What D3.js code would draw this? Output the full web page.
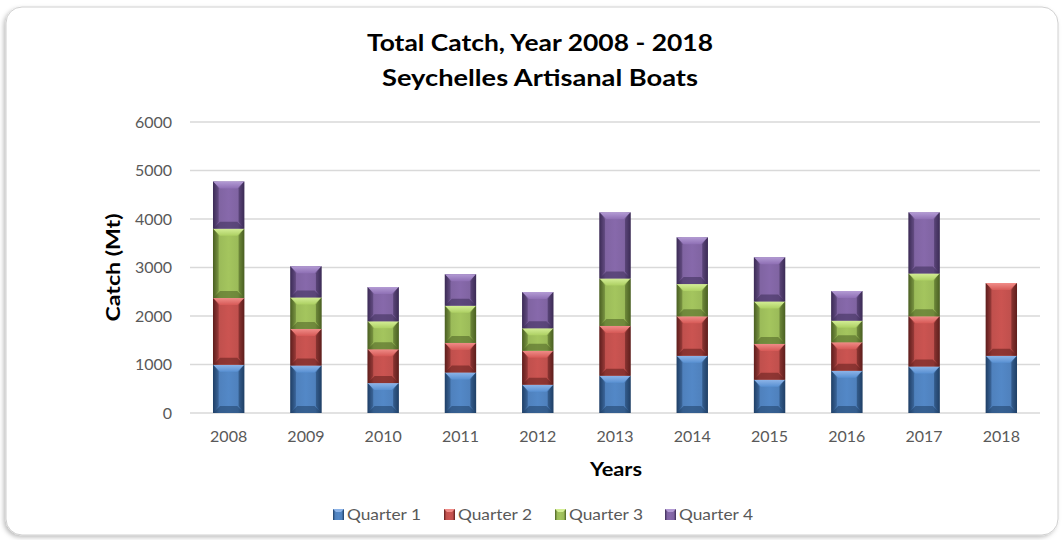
<!DOCTYPE html>
<html><head><meta charset="utf-8">
<script src="https://cdn.jsdelivr.net/npm/d3@7"></script>
<style>
html,body{margin:0;padding:0;background:#fff;}
svg{display:block;font-family:Lato,"Open Sans",sans-serif;}
</style></head>
<body>
<svg id="c" width="1063" height="540"></svg>
<script>
const years = ["2008","2009","2010","2011","2012","2013","2014","2015","2016","2017","2018"];
const seriesNames = ["Quarter 1","Quarter 2","Quarter 3","Quarter 4"];
const q1 = [993, 979, 616, 836, 582, 767, 1178, 685, 870, 959, 1178];
const q2 = [1377, 754, 699, 609, 699, 1028, 815, 740, 589, 1034, 1500];
const q3 = [1431, 651, 575, 767, 466, 979, 665, 876, 445, 884, 0];
const q4 = [973, 643, 706, 651, 746, 1363, 965, 911, 610, 1260, 0];
const yTicks = [0,1000,2000,3000,4000,5000,6000];
const colors = ["#4F81BD","#C0504D","#9BBB59","#8064A2"];
const lights = ["#8DB4E8","#F08C88","#D4EE96","#B39BD4"];
const darks = ["#1F3F66","#5E1E1C","#4A5F22","#3B2B55"];

const svg = d3.select("#c");
const defs = svg.append("defs");

// frame with shadow
const sh = defs.append("filter").attr("id","sh").attr("x","-5%").attr("y","-5%").attr("width","110%").attr("height","110%");
sh.append("feDropShadow").attr("dx",-2).attr("dy",2).attr("stdDeviation",2).attr("flood-color","#000").attr("flood-opacity",0.25);
svg.append("rect").attr("x",6).attr("y",7).attr("width",1052).attr("height",528).attr("rx",16)
  .attr("fill","#fff").attr("stroke","#d0d0d0").attr("stroke-width",1).attr("filter","url(#sh)");

const margin = {left:190, right:23, top:122, bottom:127};
const W = 1063, H = 540;
const x = d3.scaleBand().domain(years).range([margin.left, W - margin.right]).paddingInner(0.595).paddingOuter(0.2975);
const y = d3.scaleLinear().domain([0,6000]).range([H - margin.bottom, margin.top]);

// gridlines
svg.append("g").selectAll("line").data(yTicks).join("line")
  .attr("x1",margin.left).attr("x2",W - margin.right)
  .attr("y1",d=>y(d)).attr("y2",d=>y(d))
  .attr("stroke","#d9d9d9").attr("stroke-width",1.3);

// y axis labels
const yAxis = d3.axisLeft(y).tickValues(yTicks).tickSize(0).tickPadding(18).tickFormat(d3.format("d"));
const ya = svg.append("g").attr("transform",`translate(${margin.left},0)`).call(yAxis);
ya.select(".domain").remove();
ya.selectAll("text").attr("font-size",16).attr("fill","#595959").attr("font-family","Lato,sans-serif");

// x axis labels
const xAxis = d3.axisBottom(x).tickSize(0).tickPadding(18);
const xa = svg.append("g").attr("transform",`translate(0,${y(0)})`).call(xAxis);
xa.select(".domain").remove();
xa.selectAll("text").attr("font-size",16).attr("fill","#595959").attr("font-family","Lato,sans-serif");

// gradients
colors.forEach((c,i)=>{
  const g = defs.append("linearGradient").attr("id","hg"+i).attr("x1","0").attr("x2","1").attr("y1","0").attr("y2","0");
  g.append("stop").attr("offset","0").attr("stop-color",darks[i]);
  g.append("stop").attr("offset","0.2").attr("stop-color",c);
  g.append("stop").attr("offset","0.5").attr("stop-color",d3.color(c).brighter(0.15));
  g.append("stop").attr("offset","0.8").attr("stop-color",c);
  g.append("stop").attr("offset","1").attr("stop-color",darks[i]);
  const t = defs.append("linearGradient").attr("id","tg"+i).attr("x1","0").attr("x2","0").attr("y1","0").attr("y2","1");
  t.append("stop").attr("offset","0").attr("stop-color",lights[i]);
  t.append("stop").attr("offset","1").attr("stop-color",d3.color(c).brighter(0.3));
});

const data = years.map((yr,i)=>({year:yr, "Quarter 1":q1[i], "Quarter 2":q2[i], "Quarter 3":q3[i], "Quarter 4":q4[i]}));
const stacked = d3.stack().keys(seriesNames)(data);

const bw = x.bandwidth();
const bev = 7;
stacked.forEach((s,si)=>{
  const g = svg.append("g");
  s.forEach((d,di)=>{
    const v = d[1]-d[0];
    if (v <= 0) return;
    const x0 = x(years[di]), y0 = y(d[1]), h = y(d[0]) - y(d[1]);
    const b = Math.min(bev, h/3);
    g.append("rect").attr("x",x0).attr("y",y0).attr("width",bw).attr("height",h).attr("fill",`url(#hg${si})`);
    g.append("path").attr("d",`M${x0},${y0+h}L${x0+bw},${y0+h}L${x0+bw-b},${y0+h-b}L${x0+b},${y0+h-b}Z`)
      .attr("fill",darks[si]).attr("opacity",0.55);
    g.append("path").attr("d",`M${x0},${y0}L${x0+bw},${y0}L${x0+bw-b},${y0+b}L${x0+b},${y0+b}Z`)
      .attr("fill",`url(#tg${si})`);
    g.append("path").attr("d",`M${x0},${y0}L${x0+b*0.8},${y0+b}L${x0+b*0.8},${y0+h-b}L${x0},${y0+h}Z`).attr("fill",darks[si]).attr("opacity",0.35);
    g.append("path").attr("d",`M${x0+bw},${y0}L${x0+bw-b*0.8},${y0+b}L${x0+bw-b*0.8},${y0+h-b}L${x0+bw},${y0+h}Z`).attr("fill",darks[si]).attr("opacity",0.5);
  });
});

// titles
svg.append("text").attr("x",540).attr("y",51).attr("text-anchor","middle").attr("font-size",23).attr("font-weight","bold").attr("fill","#000")
  .attr("textLength",346).attr("lengthAdjust","spacingAndGlyphs").text("Total Catch, Year 2008 - 2018");
svg.append("text").attr("x",540).attr("y",86).attr("text-anchor","middle").attr("font-size",23).attr("font-weight","bold").attr("fill","#000")
  .attr("textLength",316).attr("lengthAdjust","spacingAndGlyphs").text("Seychelles Artisanal Boats");
svg.append("text").attr("transform",`translate(120,${y(3000)}) rotate(-90)`).attr("text-anchor","middle").attr("font-size",19).attr("font-weight","bold")
  .attr("textLength",108).attr("lengthAdjust","spacingAndGlyphs").text("Catch (Mt)");
svg.append("text").attr("x",616).attr("y",476).attr("text-anchor","middle").attr("font-size",18).attr("font-weight","bold")
  .attr("textLength",52).attr("lengthAdjust","spacingAndGlyphs").text("Years");

// legend
const legX = [333, 444, 555, 665];
const lg = svg.append("g");
seriesNames.forEach((n,i)=>{
  lg.append("rect").attr("x",legX[i]).attr("y",509).attr("width",11).attr("height",11).attr("fill",`url(#hg${i})`);
  lg.append("path").attr("d",`M${legX[i]},509L${legX[i]+11},509L${legX[i]+8},512L${legX[i]+3},512Z`).attr("fill",lights[i]);
  lg.append("text").attr("x",legX[i]+14).attr("y",520).attr("font-size",16).attr("fill","#595959")
    .attr("textLength",74).attr("lengthAdjust","spacingAndGlyphs").text(n);
});
</script>
</body></html>
